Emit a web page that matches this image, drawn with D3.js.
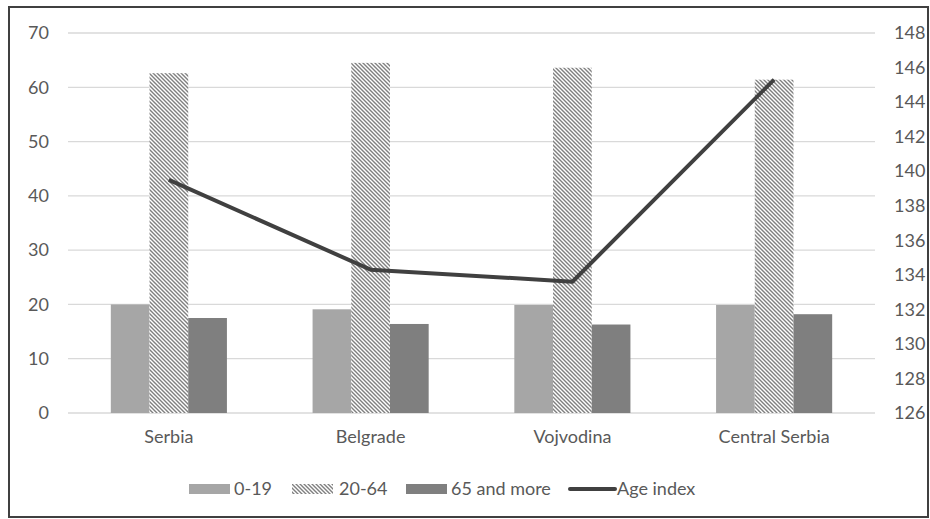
<!DOCTYPE html>
<html><head><meta charset="utf-8">
<script src="https://cdn.jsdelivr.net/npm/d3@7"></script>
<style>body{margin:0;background:#fff}svg{display:block}text{font-family:Lato,"Open Sans",sans-serif;fill:#595959}</style>
</head><body><svg id="c" width="930" height="519"></svg>
<script>
const categories = ["Serbia","Belgrade","Vojvodina","Central Serbia"];
const age0_19 = [20.0, 19.1, 19.9, 19.9];
const age20_64 = [62.6, 64.5, 63.6, 61.4];
const age65plus = [17.5, 16.4, 16.3, 18.2];
const ageIndex = [139.5, 134.3, 133.6, 145.3];
const leftTicks = [0,10,20,30,40,50,60,70];
const rightTicks = [126,128,130,132,134,136,138,140,142,144,146,148];
const seriesNames = ["0-19","20-64","65 and more","Age index"];

const FS = 18;
const svg = d3.select("#c");
const defs = svg.append("defs");
const pat = defs.append("pattern").attr("id","hatch").attr("patternUnits","userSpaceOnUse")
  .attr("width",4).attr("height",4);
pat.append("rect").attr("width",4).attr("height",4).attr("fill","#fff");
pat.append("path").attr("d","M-1,-1 L5,5 M-1,3 L1,5 M3,-1 L5,1").attr("stroke","#808080").attr("stroke-width",1.4);

svg.append("rect").attr("x",9).attr("y",7).attr("width",919).attr("height",510)
  .attr("fill","#fff").attr("stroke","#404040").attr("stroke-width",2);

const m = {l:68, r:875, t:33, b:413};
const x = d3.scaleBand().domain(categories).range([m.l,m.r]);
const yL = d3.scaleLinear().domain([0,70]).range([m.b,m.t]);
const yR = d3.scaleLinear().domain([126,148]).range([m.b,m.t]);

// grid
svg.append("g").selectAll("line").data(leftTicks).join("line")
  .attr("x1",m.l).attr("x2",m.r).attr("y1",d=>yL(d)).attr("y2",d=>yL(d))
  .attr("stroke","#d9d9d9").attr("stroke-width",1.3);

function styleAxis(g){
  g.select(".domain").remove();
  g.selectAll("text").attr("font-size",FS).style("fill","#595959").style("font-family","Lato");
}
const gl = svg.append("g").attr("transform",`translate(${m.l-19},0)`)
  .call(d3.axisLeft(yL).tickValues(leftTicks).tickSize(0).tickPadding(0));
styleAxis(gl);

const gr = svg.append("g").attr("transform",`translate(${m.r+19},0)`)
  .call(d3.axisRight(yR).tickValues(rightTicks).tickSize(0).tickPadding(0));
styleAxis(gr);

const gx = svg.append("g").attr("transform",`translate(0,${m.b+17})`)
  .call(d3.axisBottom(x).tickSize(0).tickPadding(0));
styleAxis(gx);

const bw = 38.7;
const fills = ["#a6a6a6","url(#hatch)","#7f7f7f"];
const groups = [age0_19, age20_64, age65plus];
groups.forEach((vals,i)=>{
  svg.append("g").selectAll("rect").data(vals).join("rect")
    .attr("x",(d,j)=>x(categories[j])+x.bandwidth()/2 + (i-1.5)*bw)
    .attr("width",bw)
    .attr("y",d=>yL(d)).attr("height",d=>yL(0)-yL(d))
    .attr("fill",fills[i]);
});

const line = d3.line().x((d,j)=>x(categories[j])+x.bandwidth()/2).y(d=>yR(d));
svg.append("path").datum(ageIndex).attr("d",line).attr("fill","none")
  .attr("stroke","#404040").attr("stroke-width",4).attr("stroke-linejoin","round");

// legend
const leg = [
  {sx:189, tx:234, type:"rect", fill:"#a6a6a6"},
  {sx:292, tx:339, type:"rect", fill:"url(#hatch)"},
  {sx:406, tx:451, type:"rect", fill:"#7f7f7f"},
  {sx:570, tx:617, type:"line"}
];
const ly = 489;
leg.forEach((l,i)=>{
  if(l.type==="rect"){
    svg.append("rect").attr("x",l.sx).attr("y",ly-5).attr("width",41).attr("height",10).attr("fill",l.fill);
  } else {
    svg.append("line").attr("x1",l.sx).attr("x2",l.sx+45).attr("y1",ly).attr("y2",ly)
      .attr("stroke","#404040").attr("stroke-width",4).attr("stroke-linecap","round");
  }
  svg.append("text").attr("x",l.tx).attr("y",ly).attr("dy","0.35em").attr("font-size",FS).text(seriesNames[i]);
});
</script></body></html>
